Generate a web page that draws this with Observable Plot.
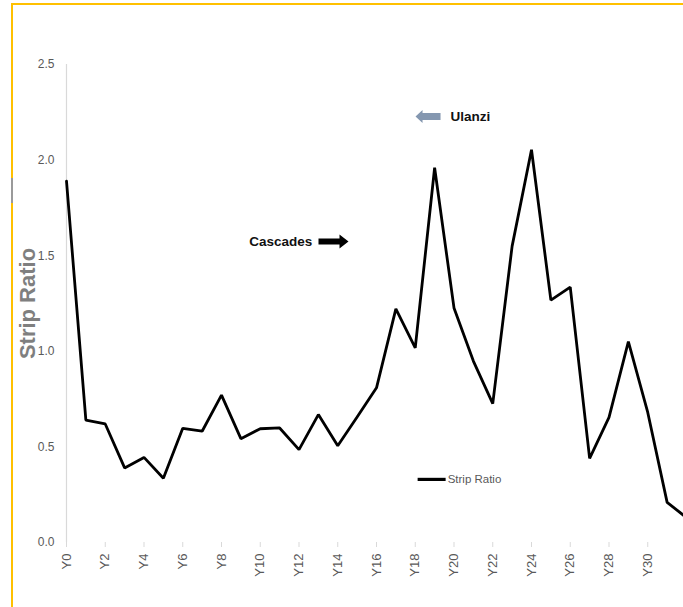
<!DOCTYPE html>
<html>
<head>
<meta charset="utf-8">
<script src="https://cdn.jsdelivr.net/npm/d3@7"></script>
<script src="https://cdn.jsdelivr.net/npm/@observablehq/plot@0.6"></script>
<style>
  html, body { margin: 0; padding: 0; background: #fff; overflow: hidden; width: 683px; height: 607px; }
  #wrap { position: relative; width: 683px; height: 607px; overflow: hidden; }
  #frame { position: absolute; left: 11px; top: 3px; width: 700px; height: 640px; z-index: 5;
           border-left: 2px solid #FFC000; border-top: 2px solid #FFC000; pointer-events: none; }
  #mark { position: absolute; left: 11px; top: 178px; width: 2px; height: 25px; background: #9a9a9a; z-index: 6; }
  #chart { position: absolute; left: 0; top: 0; }
</style>
</head>
<body>
<div id="wrap">
  <div id="chart"></div>
  <div id="frame"></div>
  <div id="mark"></div>
</div>
<script>
// ---- data ----
const years = ["Y0","Y1","Y2","Y3","Y4","Y5","Y6","Y7","Y8","Y9","Y10","Y11","Y12","Y13","Y14","Y15","Y16",
               "Y17","Y18","Y19","Y20","Y21","Y22","Y23","Y24","Y25","Y26","Y27","Y28","Y29","Y30","Y31","Y32"];
const stripRatio = [1.89,0.64,0.62,0.39,0.445,0.336,0.597,0.582,0.771,0.543,0.595,0.599,0.486,0.669,0.506,0.656,0.809,
                    1.222,1.018,1.96,1.227,0.949,0.726,1.55,2.054,1.268,1.336,0.44,0.654,1.051,0.68,0.21,0.13];
const xTickLabels = ["Y0","Y2","Y4","Y6","Y8","Y10","Y12","Y14","Y16","Y18","Y20","Y22","Y24","Y26","Y28","Y30"];
const yTickValues = [0, 0.5, 1.0, 1.5, 2.0, 2.5];
const seriesName = "Strip Ratio";
const axisTitle = "Strip Ratio";
const noteLabels = ["Ulanzi", "Cascades"];
const noteTextAt = ["Y20", "Y13"];
const noteArrowAt = ["Y19", "Y14"];
const noteValue = [2.228, 1.574];
const legendAt = "Y19";
const legendValue = 0.33;

const rows = years.map((yr, i) => ({year: yr, value: stripRatio[i]}));
const notes = noteLabels.map((label, i) => ({label, textAt: noteTextAt[i], arrowAt: noteArrowAt[i], y: noteValue[i]}));

// custom symbols (shapes only)
const arrowRight = { draw(ctx) {
  ctx.moveTo(-15,-3); ctx.lineTo(6,-3); ctx.lineTo(6,-7); ctx.lineTo(15,0);
  ctx.lineTo(6,7); ctx.lineTo(6,3); ctx.lineTo(-15,3); ctx.closePath(); } };
const arrowLeft = { draw(ctx) {
  ctx.moveTo(12.5,-3.5); ctx.lineTo(-5.5,-3.5); ctx.lineTo(-5.5,-6.5); ctx.lineTo(-12.5,0);
  ctx.lineTo(-5.5,6.5); ctx.lineTo(-5.5,3.5); ctx.lineTo(12.5,3.5); ctx.closePath(); } };
const legendBar = { draw(ctx) {
  ctx.moveTo(-14,-1.6); ctx.lineTo(14,-1.6); ctx.lineTo(14,1.6); ctx.lineTo(-14,1.6); ctx.closePath(); } };

const sans = "'Liberation Sans', Arial, sans-serif";
const grid = "#d9d9d9";
const textGray = "#595959";

const chart = Plot.plot({
  width: 683,
  height: 607,
  marginLeft: 66,
  marginTop: 64,
  marginBottom: 65,
  marginRight: 0,
  style: {background: "transparent", overflow: "visible"},
  x: {type: "point", domain: years, range: [66, 686], padding: 0, round: false},
  y: {domain: [0, 2.5], range: [542, 64]},
  marks: [
    Plot.ruleY(yTickValues, {stroke: grid, strokeWidth: 1.2, x1: "Y0", x2: "Y32"}),
    Plot.ruleX(["Y0"], {y1: 0, y2: 2.5, stroke: grid, strokeWidth: 1.2}),
    Plot.axisY({ticks: yTickValues, tickSize: 0, tickPadding: 12, tickFormat: d3.format(".1f"),
                fill: textGray, fontSize: 12, fontFamily: sans, label: null}),
    Plot.axisX({ticks: xTickLabels, tickRotate: -90, tickSize: 5, tickPadding: 6, stroke: grid,
                fill: textGray, fontSize: 13, fontFamily: sans, label: null}),
    Plot.text([axisTitle], {frameAnchor: "left", dx: -39, rotate: -90, text: d => d, textAnchor: "middle",
               fontSize: 22, fontWeight: "bold", fill: "#7f7f7f", fontFamily: sans, letterSpacing: "1px"}),
    Plot.line(rows, {x: "year", y: "value", stroke: "black", strokeWidth: 2.8, strokeLinejoin: "miter"}),
    // annotations
    Plot.text([notes[0]], {x: "textAt", y: "y", text: "label", dx: -3.5, textAnchor: "start",
               fontSize: 13.5, fontWeight: "bold", fill: "#111", fontFamily: sans}),
    Plot.dot([notes[0]], {x: "arrowAt", y: "y", dx: -6.6, symbol: arrowLeft, fill: "#8497b0", stroke: "none"}),
    Plot.text([notes[1]], {x: "textAt", y: "y", text: "label", dx: -6, textAnchor: "end",
               fontSize: 13.5, fontWeight: "bold", fill: "#111", fontFamily: sans}),
    Plot.dot([notes[1]], {x: "arrowAt", y: "y", dx: -4.25, symbol: arrowRight, fill: "black", stroke: "none"}),
    // legend
    Plot.dot([seriesName], {x: () => legendAt, y: () => legendValue, dx: -3, symbol: legendBar, fill: "black", stroke: "none"}),
    Plot.text([seriesName], {x: () => legendAt, y: () => legendValue, dx: 13, text: d => d, textAnchor: "start",
               fontSize: 11.5, fill: textGray, fontFamily: sans})
  ]
});
document.getElementById("chart").appendChild(chart);
</script>
</body>
</html>
